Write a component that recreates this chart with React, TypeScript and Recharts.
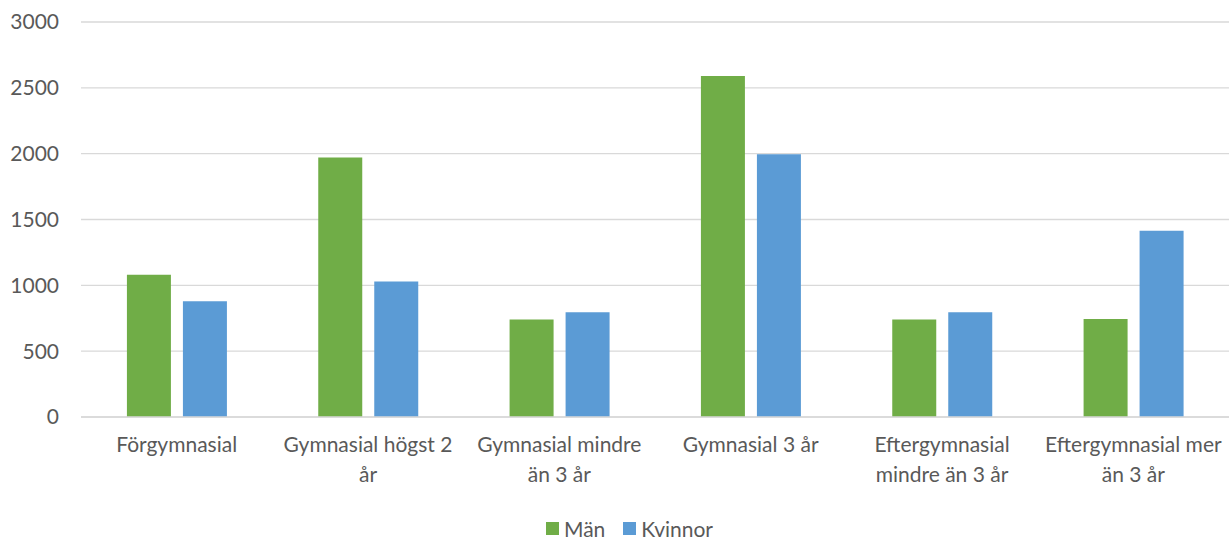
import { BarChart, Bar, XAxis, YAxis, CartesianGrid, Legend } from "recharts";

const categories = [
  "Förgymnasial",
  "Gymnasial högst 2 år",
  "Gymnasial mindre än 3 år",
  "Gymnasial 3 år",
  "Eftergymnasial mindre än 3 år",
  "Eftergymnasial mer än 3 år",
];

// label lines as wrapped in the original
const categoryLines = [
  ["Förgymnasial"],
  ["Gymnasial högst 2", "år"],
  ["Gymnasial mindre", "än 3 år"],
  ["Gymnasial 3 år"],
  ["Eftergymnasial", "mindre än 3 år"],
  ["Eftergymnasial mer", "än 3 år"],
];

const man = [1080, 1970, 740, 2590, 740, 745];
const kvinnor = [880, 1030, 795, 1995, 795, 1415];
const yTicks = [0, 500, 1000, 1500, 2000, 2500, 3000];

const data = categories.map((name, i) => ({
  name,
  man: man[i],
  kvinnor: kvinnor[i],
}));

const GREEN = "#70AD47";
const BLUE = "#5B9BD5";
const TEXT = "#595959";
const FONT = "Lato, 'Open Sans', sans-serif";

function CategoryTick({ x, y, index }: any) {
  const lines = categoryLines[index] || [];
  return (
    <text x={x} y={y} textAnchor="middle" fill={TEXT} fontSize={21} fontFamily={FONT}>
      {lines.map((line, i) => (
        <tspan key={i} x={x} dy={i === 0 ? "0.71em" : 30}>
          {line}
        </tspan>
      ))}
    </text>
  );
}

function LegendContent() {
  const items = [
    { label: "Män", color: GREEN },
    { label: "Kvinnor", color: BLUE },
  ];
  return (
    <div style={{ display: "flex", justifyContent: "center", alignItems: "center", fontFamily: FONT, fontSize: 21, color: TEXT, paddingLeft: 30 }}>
      {items.map((it) => (
        <div key={it.label} style={{ display: "flex", alignItems: "center", margin: "0 9px" }}>
          <span style={{ width: 13, height: 13, background: it.color, display: "inline-block", marginRight: 5 }} />
          <span>{it.label}</span>
        </div>
      ))}
    </div>
  );
}

export default function App() {
  return (
    <div style={{ position: "absolute", left: 0, top: 0, width: 1229, height: 540, background: "#fff" }}>
      <BarChart
        width={1229}
        height={540}
        data={data}
        margin={{ top: 22, right: 0, left: 0, bottom: 0 }}
        barCategoryGap="24%"
        barGap={12}
      >
        <CartesianGrid vertical={false} stroke="#D9D9D9" strokeWidth={1.3} />
        <XAxis
          dataKey="name"
          axisLine={{ stroke: "#D9D9D9", strokeWidth: 1.3 }}
          tickLine={false}
          tickSize={0}
          tickMargin={20}
          height={99}
          interval={0}
          tick={<CategoryTick />}
        />
        <YAxis
          domain={[0, 3000]}
          ticks={yTicks}
          axisLine={false}
          tickLine={false}
          tickSize={0}
          tickMargin={22}
          width={81}
          tick={{ fill: TEXT, fontSize: 21, fontFamily: FONT }}
        />
        <Legend
          verticalAlign="bottom"
          height={24}
          content={<LegendContent />}
          wrapperStyle={{ height: 24 }}
        />
        <Bar dataKey="man" name="Män" fill={GREEN} isAnimationActive={false} />
        <Bar dataKey="kvinnor" name="Kvinnor" fill={BLUE} isAnimationActive={false} />
      </BarChart>
    </div>
  );
}
